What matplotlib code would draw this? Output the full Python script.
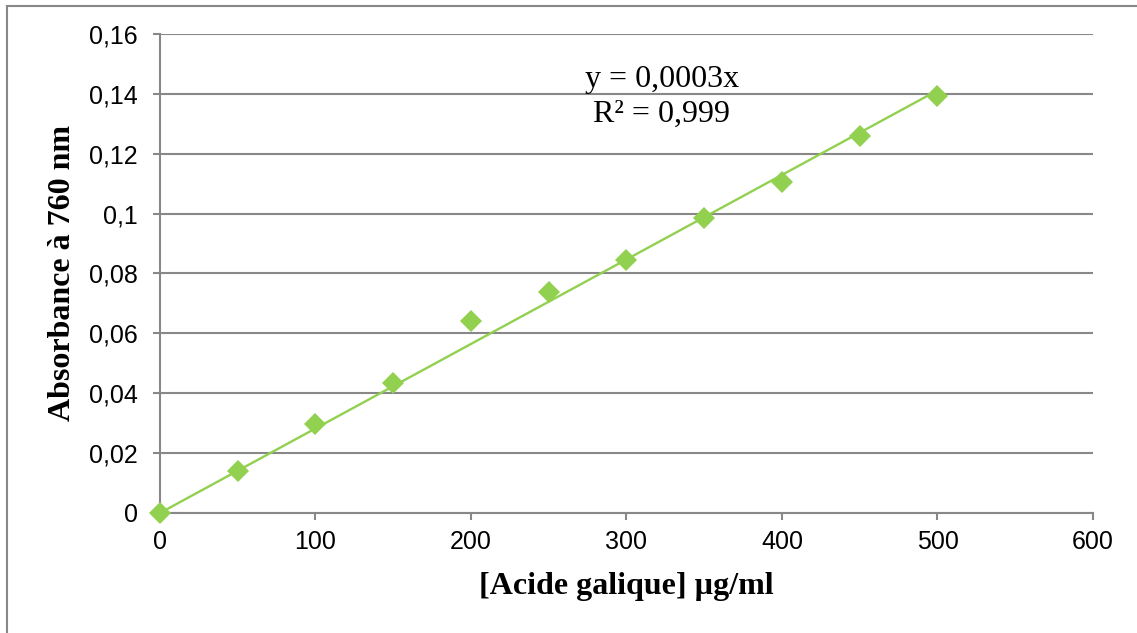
import matplotlib.pyplot as plt
from matplotlib.lines import Line2D
import numpy as np

# courbe d'étalonnage - acide gallique
concentration = [0, 50, 100, 150, 200, 250, 300, 350, 400, 450, 500]
absorbance = [0.0, 0.0140, 0.0297, 0.0433, 0.0640, 0.0739, 0.0845, 0.0984, 0.1105, 0.1259, 0.1393]

x_ticks = [0, 100, 200, 300, 400, 500, 600]
y_ticks = [0, 0.02, 0.04, 0.06, 0.08, 0.1, 0.12, 0.14, 0.16]
y_tick_labels = ['0', '0,02', '0,04', '0,06', '0,08', '0,1', '0,12', '0,14', '0,16']

equation = 'y = 0,0003x'
r2_text = 'R² = 0,999'

vert = '#92D050'
gris = '#888888'

x = np.array(concentration, dtype=float)
y = np.array(absorbance)
# régression linéaire passant par l'origine
pente = np.sum(x * y) / np.sum(x * x)
x_fit = np.array([x.min(), x.max()])

fig = plt.figure(figsize=(11.37, 6.33), dpi=100)
ax = fig.add_axes([0.1407, 0.1896, 0.8206, 0.7567])

ax.plot(x_fit, pente * x_fit, color=vert, lw=1.7, zorder=3)
ax.plot(x, y, linestyle='none', marker='D', ms=11, mfc=vert, mec=vert,
        mew=0, zorder=4, clip_on=False)

ax.set_xlim(0, 600)
ax.set_ylim(0, 0.16)
ax.set_xticks(x_ticks)
ax.set_xticklabels([str(v) for v in x_ticks])
ax.set_yticks(y_ticks)
ax.set_yticklabels(y_tick_labels)

ax.grid(axis='y', color=gris, lw=1.5)
ax.set_axisbelow(True)
for s in ['top', 'right']:
    ax.spines[s].set_visible(False)
for s in ['left', 'bottom']:
    ax.spines[s].set_color(gris)
    ax.spines[s].set_linewidth(1.5)

ax.tick_params(axis='both', colors=gris, length=5, width=1.5, direction='out',
               labelcolor='black', labelsize=18)
ax.tick_params(axis='y', pad=11)
ax.tick_params(axis='x', pad=7)
for lab in ax.get_xticklabels() + ax.get_yticklabels():
    lab.set_family('Liberation Sans')

ax.set_xlabel('[Acide galique] µg/ml', family='Liberation Serif',
              fontweight='bold', fontsize=23, va='center')
ax.xaxis.set_label_coords(0.5, -0.1545)
ax.set_ylabel('Absorbance à 760 nm', family='Liberation Serif',
              fontweight='bold', fontsize=23, va='center')
ax.yaxis.set_label_coords(-0.105, 0.5)

ax.text(0.538, 0.890, equation, transform=ax.transAxes, ha='center',
        va='baseline', family='Liberation Serif', fontsize=23)
ax.text(0.538, 0.817, r2_text, transform=ax.transAxes, ha='center',
        va='baseline', family='Liberation Serif', fontsize=23)

# cadre du graphique (haut et gauche)
fig.add_artist(Line2D([7 / 1137, 1], [1 - 6 / 633, 1 - 6 / 633],
                      transform=fig.transFigure, color=gris, lw=1.5))
fig.add_artist(Line2D([7 / 1137, 7 / 1137], [0, 1 - 6 / 633],
                      transform=fig.transFigure, color=gris, lw=1.5))

fig.savefig('out.png', dpi=100)
